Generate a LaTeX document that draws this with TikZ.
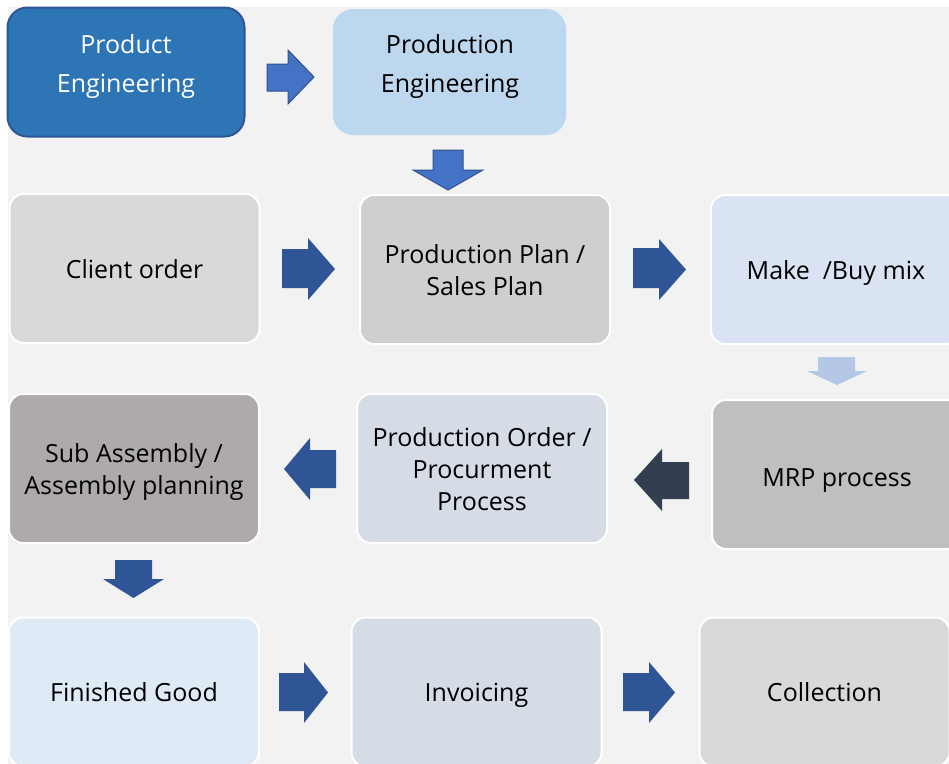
\documentclass[tikz,border=0pt]{standalone}
\usepackage{fontspec}
\setmainfont{Open Sans}
\definecolor{bgc}{HTML}{F2F2F2}
\definecolor{peFill}{HTML}{2E75B6}
\definecolor{peDraw}{HTML}{2F5597}
\definecolor{prodEng}{HTML}{BDD7EE}
\definecolor{clientC}{HTML}{D9D9D9}
\definecolor{planC}{HTML}{D0CECE}
\definecolor{makeC}{HTML}{DAE3F3}
\definecolor{subC}{HTML}{AEAAAA}
\definecolor{orderC}{HTML}{D6DCE5}
\definecolor{mrpC}{HTML}{BFBFBF}
\definecolor{finC}{HTML}{DEEBF7}
\definecolor{invC}{HTML}{D6DCE5}
\definecolor{colC}{HTML}{D9D9D9}
\definecolor{arrBlue}{HTML}{4472C4}
\definecolor{arrBlueDraw}{HTML}{2F528F}
\definecolor{arrDark}{HTML}{2F5597}
\definecolor{arrLight}{HTML}{B4C7E7}
\definecolor{arrNavy}{HTML}{333F50}
\begin{document}
\begin{tikzpicture}[x=1pt,y=-1pt,
  box/.style={draw=white, line width=2pt, rounded corners=14pt, minimum width=250pt, minimum height=149pt, inner sep=0pt},
  lbl/.style={align=center, font=\fontsize{25}{32}\selectfont, text=black},
  one/.style={text height=19pt, text depth=0pt},
  toplbl/.style={align=center, font=\fontsize{25}{39}\selectfont},
  barrow/.style={fill=arrBlue, draw=arrBlueDraw, line width=1pt, line join=miter},
  darrow/.style={fill=arrDark},
  larrow/.style={fill=arrLight},
  narrow/.style={fill=arrNavy}]
\useasboundingbox (0,0) rectangle (949,763);
\clip (0,0) rectangle (949,763);
\fill[white] (0,0) rectangle (949,763);
\fill[bgc] (8,7) rectangle (960,770);

% top row
\node[draw=peDraw, fill=peFill, line width=2pt, rounded corners=20pt, minimum width=237pt, minimum height=129pt, inner sep=0pt] (prodeng) at (126,72) {};
\node[toplbl, text=white] (prodengT) at (126,67) {Product\\Engineering};
\node[fill=prodEng, rounded corners=20pt, minimum width=233pt, minimum height=126pt, inner sep=0pt] (proceng) at (449.5,72) {};
\node[toplbl, text=black] (procengT) at (450,67) {Production\\Engineering};

% row 2
\node[box, fill=clientC] (client) at (134.5,268.5) {};
\node[lbl, one] (clientT) at (134.5,269) {Client order};
\node[box, fill=planC] (plan) at (485,269.5) {};
\node[lbl] (planT) at (485,270.5) {Production Plan /\\Sales Plan};
\node[box, fill=makeC] (make) at (836,269.5) {};
\node[lbl, one] (makeT) at (836,270) {Make \ /Buy mix};

% row 3
\node[box, fill=subC] (sub) at (134,468.5) {};
\node[lbl] (subT) at (134,472) {Sub Assembly /\\Assembly planning};
\node[box, fill=orderC] (order) at (482,468.5) {};
\node[lbl] (orderT) at (482,469.5) {Production Order /\\Procurment\\Process};
\node[box, fill=mrpC] (mrp) at (837,474.5) {};
\node[lbl, one] (mrpT) at (837,477) {MRP process};

% row 4
\node[box, fill=finC] (fin) at (134,692) {};
\node[lbl, one] (finT) at (134,692) {Finished Good};
\node[box, fill=invC] (inv) at (476.5,692) {};
\node[lbl, one] (invT) at (476.5,692) {Invoicing};
\node[box, fill=colC] (col) at (824.5,692) {};
\node[lbl, one] (colT) at (824.5,692) {Collection};

% block arrows
\path[barrow] (267,64) -- (288,64) -- (288,50) -- (314,77) -- (288,104) -- (288,91) -- (267,91) -- cycle;
\path[barrow] (433,150) -- (463,150) -- (463,170) -- (483,170) -- (448,190) -- (413,170) -- (433,170) -- cycle;
\path[darrow] (282,249) -- (308,249) -- (308,238) -- (335,269) -- (308,300) -- (308,288) -- (282,288) -- cycle;
\path[darrow] (633,248) -- (659,248) -- (659,239) -- (686,269.5) -- (659,300) -- (659,288) -- (633,288) -- cycle;
\path[larrow] (818,357) -- (855,357) -- (855,371) -- (867,371) -- (837,385) -- (807,371) -- (818,371) -- cycle;
\path[narrow] (689,462) -- (662,462) -- (662,449) -- (634,480) -- (662,511) -- (662,499) -- (689,499) -- cycle;
\path[darrow] (336,450) -- (310,450) -- (310,438) -- (284,469) -- (310,500) -- (310,488) -- (336,488) -- cycle;
\path[darrow] (115,560) -- (152,560) -- (152,579) -- (164,579) -- (133.5,598) -- (103,579) -- (115,579) -- cycle;
\path[darrow] (279,673) -- (304,673) -- (304,662) -- (328,692.5) -- (304,723) -- (304,711) -- (279,711) -- cycle;
\path[darrow] (623,673) -- (649,673) -- (649,662) -- (675,692.5) -- (649,723) -- (649,711) -- (623,711) -- cycle;
\end{tikzpicture}
\end{document}
